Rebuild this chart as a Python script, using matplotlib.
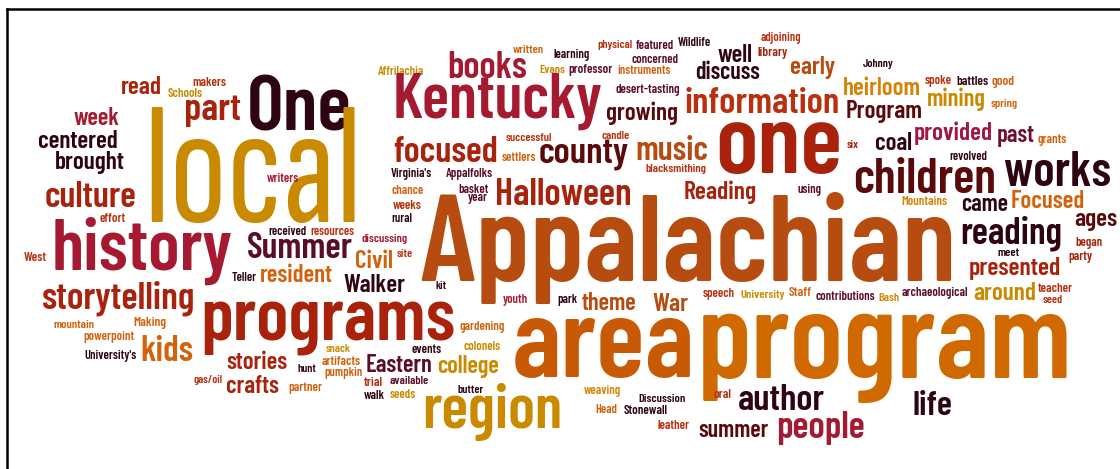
import matplotlib
matplotlib.use("Agg")
import matplotlib.pyplot as plt

# ---------------- data: words of the cloud ----------------
words = [
    "read", "makers", "Schools", "One", "part", "week", "centered", "brought",
    "culture", "local", "writers", "effort", "received", "resources", "discussing",
    "Affrilachia", "history", "Summer", "West", "Civil", "Teller", "resident",
    "Walker", "storytelling", "programs", "mountain", "Making", "powerpoint", "kids",
    "University's", "stories", "hunt", "snack", "artifacts", "pumpkin", "Eastern",
    "gas/oil", "crafts", "partner", "trial", "walk", "available", "seeds", "butter",
    "events", "college", "gardening", "colonels", "region", "youth", "kit", "site",
    "park", "theme", "War", "speech", "University", "area", "program", "weaving",
    "Head", "Discussion", "Stonewall", "oral", "leather", "author", "summer",
    "people", "life", "Staff", "contributions", "Bash", "archaeological", "around",
    "teacher", "seed", "presented", "meet", "party", "began", "reading", "ages",
    "adjoining", "library", "well", "discuss", "early", "Johnny", "heirloom",
    "spoke", "battles", "good", "information", "Program", "mining", "spring", "one",
    "six", "coal", "provided", "past", "grants", "revolved", "children", "works",
    "using", "Mountains", "came", "Focused", "Appalachian", "written", "learning",
    "physical", "featured", "Wildlife", "concerned", "books", "Evans", "professor",
    "instruments", "Kentucky", "desert-tasting", "growing", "successful", "candle",
    "focused", "settlers", "county", "music", "blacksmithing", "Virginia's",
    "Appalfolks", "basket", "year", "Halloween", "Reading", "chance", "weeks", "rural",
]

# ---------------- layout: (left x, right x, baseline y) in pixels ----------------
layout = [
    (121, 162, 94), (192, 226, 86), (168, 203, 97), (247, 352, 130), (184, 241, 120),
    (73, 119, 125), (38, 118, 148), (55, 125, 169), (45, 137, 207), (143, 362, 222),
    (267, 299, 182), (99, 125, 222), (268, 306, 235), (310, 354, 235), (362, 408, 242),
    (378, 424, 75), (52, 233, 270), (247, 353, 258), (24, 47, 261), (355, 393, 268),
    (232, 257, 281), (260, 333, 282), (343, 405, 292), (42, 195, 308), (200, 455, 340),
    (53, 94, 328), (133, 166, 326), (83, 134, 340), (140, 193, 361), (84, 136, 359),
    (226, 287, 369), (297, 316, 372), (326, 351, 352), (322, 361, 365), (324, 362, 376),
    (366, 433, 372), (193, 222, 383), (226, 279, 393), (288, 322, 391), (364, 383, 386),
    (364, 385, 399), (390, 429, 384), (390, 416, 398), (458, 484, 393), (411, 441, 353),
    (437, 499, 373), (459, 504, 330), (464, 501, 350), (422, 562, 428), (503, 528, 303),
    (436, 447, 289), (397, 413, 257), (557, 577, 303), (582, 637, 310), (652, 688, 311),
    (703, 735, 297), (740, 784, 298), (512, 695, 377), (697, 1072, 378), (584, 621, 394),
    (595, 617, 413), (638, 685, 402), (624, 668, 414), (714, 732, 398), (658, 690, 429),
    (738, 825, 410), (698, 768, 437), (776, 865, 438), (912, 952, 415), (789, 812, 296),
    (815, 874, 300), (878, 899, 301), (902, 968, 296), (973, 1036, 300), (1038, 1073, 292),
    (1043, 1063, 303), (969, 1061, 275), (997, 1019, 256), (1068, 1092, 260), (1075, 1102, 246),
    (960, 1062, 243), (1074, 1117, 226), (761, 801, 41), (758, 788, 56), (718, 753, 62),
    (695, 760, 79), (790, 835, 74), (863, 894, 67), (843, 921, 95), (925, 952, 84),
    (956, 988, 85), (992, 1015, 85), (685, 840, 113), (846, 923, 118), (927, 986, 106),
    (991, 1018, 107), (715, 842, 173), (847, 859, 148), (875, 912, 150), (914, 993, 140),
    (997, 1035, 142), (1038, 1067, 143), (949, 987, 160), (853, 996, 193), (1004, 1111, 186),
    (798, 822, 193), (901, 947, 205), (961, 1008, 211), (1011, 1085, 208), (420, 957, 281),
    (513, 544, 53), (553, 589, 58), (597, 632, 48), (636, 674, 49), (678, 711, 46),
    (631, 678, 63), (447, 527, 78), (539, 565, 73), (568, 612, 73), (617, 670, 74),
    (393, 603, 118), (615, 679, 93), (606, 678, 120), (506, 552, 141), (601, 629, 139),
    (393, 498, 162), (502, 536, 161), (539, 629, 163), (635, 708, 160), (646, 707, 172),
    (391, 432, 177), (446, 493, 177), (458, 488, 193), (468, 488, 201), (495, 632, 205),
    (684, 757, 199), (391, 423, 194), (393, 422, 209), (391, 412, 222),
]

# ---------------- style: colour key per word ----------------
palette = {
    "gold": "#C98A00", "amber": "#D48406", "orange": "#D2620C", "rust": "#B64C10",
    "area": "#C85A06", "prog": "#D06A00", "red": "#A8220C", "scarlet": "#B8300F",
    "crimson": "#A51A30", "magenta": "#A0184A", "maroon": "#701030", "plum": "#5A0C28",
    "brown": "#5A0A0A", "dark": "#2E0410",
}
colour_keys = [
    "red", "scarlet", "gold", "dark", "red", "crimson", "dark", "dark",
    "red", "gold", "crimson", "scarlet", "dark", "scarlet", "crimson",
    "gold", "crimson", "plum", "scarlet", "orange", "dark", "orange",
    "dark", "red", "red", "orange", "orange", "orange", "orange",
    "dark", "red", "dark", "gold", "orange", "orange", "plum",
    "scarlet", "red", "orange", "scarlet", "dark", "plum", "gold", "dark",
    "dark", "gold", "orange", "gold", "gold", "crimson", "dark", "scarlet",
    "dark", "rust", "rust", "scarlet", "gold", "area", "prog", "amber",
    "orange", "dark", "dark", "scarlet", "scarlet", "dark", "brown",
    "crimson", "dark", "orange", "plum", "amber", "plum", "gold",
    "scarlet", "scarlet", "red", "dark", "red", "red", "dark", "brown",
    "scarlet", "red", "dark", "dark", "rust", "dark", "amber",
    "scarlet", "dark", "orange", "scarlet", "brown", "gold", "orange", "red",
    "red", "dark", "magenta", "maroon", "orange", "dark", "brown", "dark",
    "plum", "amber", "dark", "orange", "rust", "orange", "dark",
    "scarlet", "plum", "dark", "plum", "crimson", "gold", "plum",
    "orange", "crimson", "plum", "brown", "scarlet", "scarlet",
    "red", "orange", "brown", "rust", "scarlet", "dark",
    "plum", "plum", "plum", "red", "red", "orange", "scarlet", "dark",
]

FAMILY = ["Barlow Condensed", "Fira Sans Extra Condensed", "Roboto Condensed", "DejaVu Sans"]
# the largest word uses an even narrower face, as in the reference
NARROW = {"local"}
FAMILY_NARROW = ["Sofia Sans Extra Condensed", "Saira ExtraCondensed"] + FAMILY
W, H = 1120, 469

fig = plt.figure(figsize=(W / 100, H / 100), dpi=100)
fig.patch.set_facecolor("white")
left_px, top_px = 7, 9.5
ax = fig.add_axes([left_px / W, 0, 1 - left_px / W, (H - top_px) / H])
ax.set_xlim(left_px, W)
ax.set_ylim(H, top_px)
ax.set_xticks([])
ax.set_yticks([])
for side in ("right", "bottom"):
    ax.spines[side].set_visible(False)
for side in ("left", "top"):
    ax.spines[side].set_linewidth(1.8)
    ax.spines[side].set_color("black")

renderer = fig.canvas.get_renderer()
for word, (x0, x1, yb), ck in zip(words, layout, colour_keys):
    fam = FAMILY_NARROW if word in NARROW else FAMILY
    t = ax.text(x0, yb, word, fontsize=100, family=fam, fontweight=600,
                color=palette[ck], ha="left", va="baseline")
    w100 = t.get_window_extent(renderer).width
    t.set_fontsize(100 * (x1 - x0) / w100)

fig.savefig("out.png", dpi=100, facecolor="white")
